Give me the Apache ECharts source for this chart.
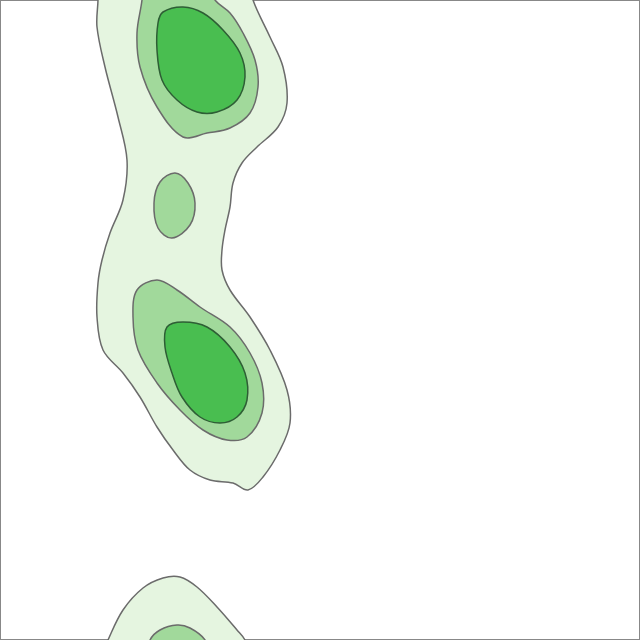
<!DOCTYPE html>
<html>
<head>
<meta charset="utf-8">
<script src="https://cdn.jsdelivr.net/npm/echarts@6/dist/echarts.min.js"></script>
<style>
  html, body { margin: 0; padding: 0; background: #fff; }
  #chart { width: 640px; height: 640px; }
</style>
</head>
<body>
<div id="chart"></div>
<script>
// contour outlines, in data units (x right, y down)
var lightTop = [[9.8,-2],[9.8,0],[9.7,2.7],[10.5,6.7],[11.8,11.7],[12.7,16],[12.3,20],[11,23.3],[10.2,26],[9.8,28.3],[9.7,31.7],[10.3,35],[12.3,37.3],[14,39.7],[15.7,42.7],[17.3,45],[19,47],[21,48],[23.3,48.3],[24.8,49],[26.3,47.7],[28,45],[29,42.3],[28.7,39],[27,35],[25,31.7],[23,29],[22.2,27],[22.2,25],[22.5,23],[23,20.7],[23.3,18.3],[24.2,16.3],[25.7,14.7],[27.8,12.7],[28.7,10.3],[28.3,6.7],[27,3.7],[25.3,0],[25,-2]];
var midTop = [[14.3,-2],[14.2,0],[13.7,3.3],[14,6.7],[15.7,10.7],[18.3,13.7],[20.7,13.3],[23,12.8],[25,11.3],[25.8,8.7],[25.5,6],[24.3,3.3],[23,1.3],[21.5,0],[20.5,-2]];
var darkTop = [[16.3,1.2],[18.3,0.7],[20.3,1.3],[22.3,3],[24,5.3],[24.5,7.7],[23.7,10],[21.7,11.2],[19.7,11.2],[17.7,10],[16.2,8],[15.7,5],[15.8,2.3]];
var midSmall = [[17.5,17.3],[18.8,18.3],[19.5,20.3],[19,22.5],[17.2,23.8],[15.8,22.8],[15.4,20.3],[16,18.2]];
var midLow = [[15.7,28],[13.7,29],[13.3,31.7],[13.8,35],[15.7,38.3],[18,41],[20.3,43],[22.7,44],[24.7,43.7],[26.2,41.3],[26.2,38.3],[25,35.3],[23,32.7],[20,30.7],[17.7,29]];
var darkLow = [[16.7,32.7],[18.3,32.2],[20.7,32.7],[23,34.7],[24.5,37.3],[24.7,40],[23.7,41.7],[22,42.3],[20,41.7],[18.2,39.7],[17.2,37.3],[16.5,34.7]];
var lightBottom = [[10,66],[10.8,64],[12.3,61],[14.3,58.8],[16.3,57.8],[18,57.7],[19.7,58.7],[21.7,60.7],[23.7,63],[24.5,64],[25.2,66]];
var midBottom = [[14.5,66],[15,64],[16,63],[17.7,62.5],[19,62.8],[20.5,64],[21,66]];

var shapes = [lightTop, lightBottom, midTop, midSmall, midLow, midBottom, darkTop, darkLow];
var levels = [0, 0, 1, 1, 1, 1, 2, 2];
var levelColors = ['#e5f5e0', '#a1d99b', '#49be50'];

var chart = echarts.init(document.getElementById('chart'));

chart.setOption({
  animation: false,
  grid: {
    left: 0, right: 0, top: 0, bottom: 0,
    show: true,
    backgroundColor: '#fff',
    borderColor: '#888',
    borderWidth: 2
  },
  xAxis: {
    type: 'value', min: 0, max: 64,
    show: false
  },
  yAxis: {
    type: 'value', min: 0, max: 64, inverse: true,
    show: false
  },
  series: [{
    type: 'custom',
    coordinateSystem: 'cartesian2d',
    clip: true,
    data: shapes.map(function (s, i) { return [i, levels[i]]; }),
    renderItem: function (params, api) {
      var idx = params.dataIndex;
      var pts = shapes[idx].map(function (p) { return api.coord(p); });
      var lvl = levels[idx];
      return {
        type: 'polygon',
        shape: { points: pts, smooth: 0.35 },
        style: {
          fill: levelColors[lvl],
          stroke: lvl === 2 ? '#2e5e35' : '#6b6b6b',
          lineWidth: 1.5
        }
      };
    }
  }]
});
</script>
</body>
</html>
